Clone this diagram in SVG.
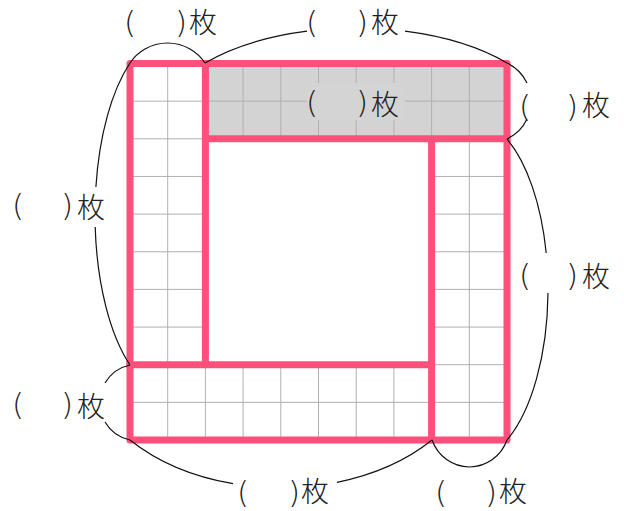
<svg xmlns="http://www.w3.org/2000/svg" width="624" height="511" viewBox="0 0 624 511">
<style>
.grid{stroke:#b0b0b0;stroke-width:1;fill:none}
.pink{stroke:#ff4f7b;stroke-width:7;fill:none;stroke-linecap:square;stroke-linejoin:round}
.arc{stroke:#111;stroke-width:1.2;fill:none}
.lbl{font-family:"Noto Sans CJK JP","Noto Sans",sans-serif;font-size:28px;font-weight:300;fill:#222}
.p{font-family:"DejaVu Sans","Liberation Sans",sans-serif;font-size:31px;font-weight:200}
</style>
<rect width="624" height="511" fill="#fff"/>
<g id="top-bar">
<rect x="205.4" y="63.5" width="301.6" height="75.3" fill="#d3d3d3"/>
<path class="grid" d="M205.4,101.15H507M243.1,63.5V138.8M280.8,63.5V138.8M318.5,63.5V138.8M356.2,63.5V138.8M393.9,63.5V138.8M431.6,63.5V138.8M469.3,63.5V138.8"/>
</g>
<g id="left-column">
<path class="grid" d="M167.7,63.5V364.7M130,101.15H205.4M130,138.8H205.4M130,176.45H205.4M130,214.1H205.4M130,251.75H205.4M130,289.4H205.4M130,327.05H205.4"/>
</g>
<g id="right-column">
<path class="grid" d="M469.3,138.8V440M431.6,176.45H507M431.6,214.1H507M431.6,251.75H507M431.6,289.4H507M431.6,327.05H507M431.6,364.7H507M431.6,402.35H507"/>
</g>
<g id="bottom-bar">
<path class="grid" d="M130,402.35H431.6M167.7,364.7V440M205.4,364.7V440M243.1,364.7V440M280.8,364.7V440M318.5,364.7V440M356.2,364.7V440M393.9,364.7V440"/>
</g>
<g id="outlines">
<rect class="pink" x="130" y="63.5" width="377" height="376.5"/>
<path class="pink" d="M205.4,63.5V364.7M205.4,138.8H507M431.6,138.8V440M130,364.7H431.6"/>
</g>
<g id="connectors">
<path class="arc" d="M130,63 A45,44.7 0 0 1 205,63"/>
<path class="arc" d="M205,63 A200,101.5 0 0 1 307,31.2M405,31.2 A200,101.5 0 0 1 507,63"/>
<path class="arc" d="M507,63 A42.1,42.1 0 0 1 527,83M527,119 A42.1,42.1 0 0 1 507,139"/>
<path class="arc" d="M130,63 A75,178.4 0 0 0 95.9,187M95.2,227 A75,178.4 0 0 0 130,365"/>
<path class="arc" d="M507,139 A78,171 0 0 1 546.2,253M548,293 A78,171 0 0 1 507,440"/>
<path class="arc" d="M130,365 A38.3,38.3 0 0 0 105,383M105,422 A38.3,38.3 0 0 0 130,440"/>
<path class="arc" d="M130,440 A200,138.9 0 0 0 233,483.7M337,482.3 A200,138.9 0 0 0 432,440"/>
<path class="arc" d="M432,440 A40,41.4 0 0 0 507,440"/>
</g>
<g id="label-top-left"><text class="lbl"><tspan class="p" x="124" y="33">(</tspan><tspan class="p" x="175" y="33">)</tspan><tspan x="189" y="33">枚</tspan></text></g>
<g id="label-top"><text class="lbl"><tspan class="p" x="306" y="33">(</tspan><tspan class="p" x="356" y="33">)</tspan><tspan x="371" y="33">枚</tspan></text></g>
<g id="label-top-bar"><rect x="307" y="83" width="98" height="37" fill="#d4d4d4"/><text class="lbl"><tspan class="p" x="306" y="113">(</tspan><tspan class="p" x="356" y="113">)</tspan><tspan x="371" y="115">枚</tspan></text></g>
<g id="label-top-right"><text class="lbl"><tspan class="p" x="519" y="117">(</tspan><tspan class="p" x="566" y="117">)</tspan><tspan x="582" y="116">枚</tspan></text></g>
<g id="label-left"><text class="lbl"><tspan class="p" x="12" y="216">(</tspan><tspan class="p" x="61" y="216">)</tspan><tspan x="77" y="218">枚</tspan></text></g>
<g id="label-right"><text class="lbl"><tspan class="p" x="519" y="286">(</tspan><tspan class="p" x="566" y="286">)</tspan><tspan x="582" y="287">枚</tspan></text></g>
<g id="label-bottom-left"><text class="lbl"><tspan class="p" x="12" y="415">(</tspan><tspan class="p" x="61" y="415">)</tspan><tspan x="77" y="417">枚</tspan></text></g>
<g id="label-bottom"><text class="lbl"><tspan class="p" x="237" y="503">(</tspan><tspan class="p" x="288" y="503">)</tspan><tspan x="301" y="502">枚</tspan></text></g>
<g id="label-bottom-right"><text class="lbl"><tspan class="p" x="435" y="503">(</tspan><tspan class="p" x="485" y="503">)</tspan><tspan x="499" y="502">枚</tspan></text></g>
</svg>
